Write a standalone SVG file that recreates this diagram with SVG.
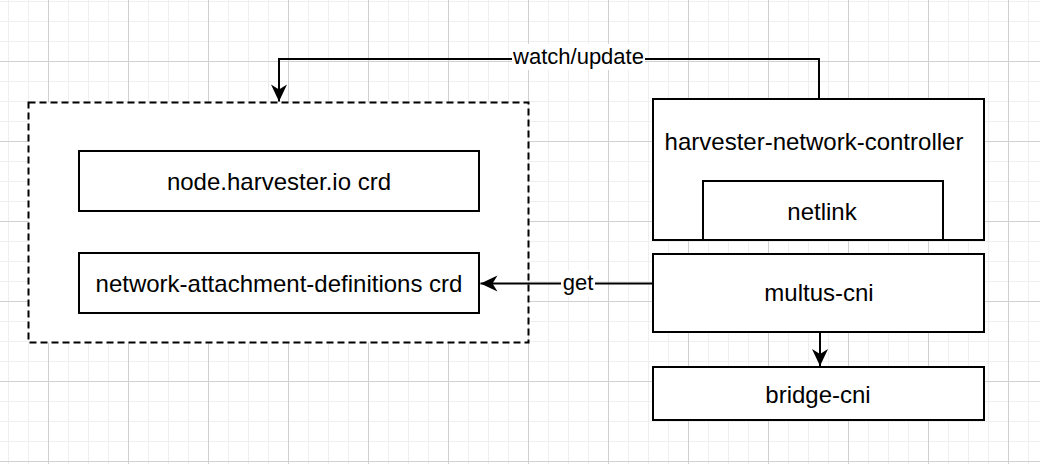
<svg xmlns="http://www.w3.org/2000/svg" width="1040" height="464" viewBox="0 0 1040 464">
<style>
  .box { fill: #ffffff; stroke: #000000; stroke-width: 2; }
  .dash { fill: #ffffff; stroke: #000000; stroke-width: 2; stroke-dasharray: 7 4; }
  .lbl { font-family: "Liberation Sans", Arial, Helvetica, sans-serif; font-size: 24px; fill: #000000; text-anchor: middle; }
  .elbl { font-family: "Liberation Sans", Arial, Helvetica, sans-serif; font-size: 22px; fill: #000000; text-anchor: middle; }
  .edge { fill: none; stroke: #000000; stroke-width: 2; }
</style>
<defs>
  <pattern id="grid" x="8" y="1" width="80" height="80" patternUnits="userSpaceOnUse">
    <path d="M0.5 0V80M20.5 0V80M60.5 0V80M0 0.5H80M0 20.5H80M0 40.5H80" stroke="#efefef" stroke-width="1" fill="none"/>
    <path d="M40.5 0V80M0 60.5H80" stroke="#d0d0d0" stroke-width="1" fill="none"/>
  </pattern>
  <marker id="arrow" markerUnits="userSpaceOnUse" markerWidth="20" markerHeight="20" viewBox="-18 -10 20 20" refX="0" refY="0" orient="auto">
    <path d="M0 0L-17 -8L-12 0L-17 8Z" fill="#000000"/>
  </marker>
</defs>
<rect x="0" y="0" width="1040" height="464" fill="#ffffff"/>
<rect x="0" y="0" width="1040" height="464" fill="url(#grid)"/>

<g id="container">
  <rect class="dash" x="28.5" y="102.5" width="500" height="240"/>
</g>
<g id="node-harvester-crd">
  <rect class="box" x="79" y="151" width="400" height="60"/>
  <text class="lbl" x="279" y="189.5">node.harvester.io crd</text>
</g>
<g id="nad-crd">
  <rect class="box" x="79" y="253" width="400" height="60"/>
  <text class="lbl" x="279" y="291.5">network-attachment-definitions crd</text>
</g>
<g id="harvester-network-controller">
  <rect class="box" x="653" y="99" width="331" height="141"/>
  <text class="lbl" x="814" y="150">harvester-network-controller</text>
</g>
<g id="netlink">
  <rect class="box" x="703" y="181" width="240" height="59"/>
  <text class="lbl" x="822" y="219.5">netlink</text>
</g>
<g id="multus-cni">
  <rect class="box" x="653" y="254" width="331" height="78"/>
  <text class="lbl" x="819" y="301">multus-cni</text>
</g>
<g id="bridge-cni">
  <rect class="box" x="653" y="367" width="331" height="53"/>
  <text class="lbl" x="818" y="403">bridge-cni</text>
</g>

<g id="connectors">
  <path class="edge" d="M819 99V59H279V101.5" marker-end="url(#arrow)"/>
  <rect x="512" y="44" width="133" height="26" fill="#ffffff"/>
  <text class="elbl" x="578.5" y="64">watch/update</text>
  <path class="edge" d="M653 283.5H480.5" marker-end="url(#arrow)"/>
  <rect x="561" y="271" width="34" height="26" fill="#ffffff"/>
  <text class="elbl" x="578" y="290">get</text>
  <path class="edge" d="M820 332V366" marker-end="url(#arrow)"/>
</g>
</svg>
